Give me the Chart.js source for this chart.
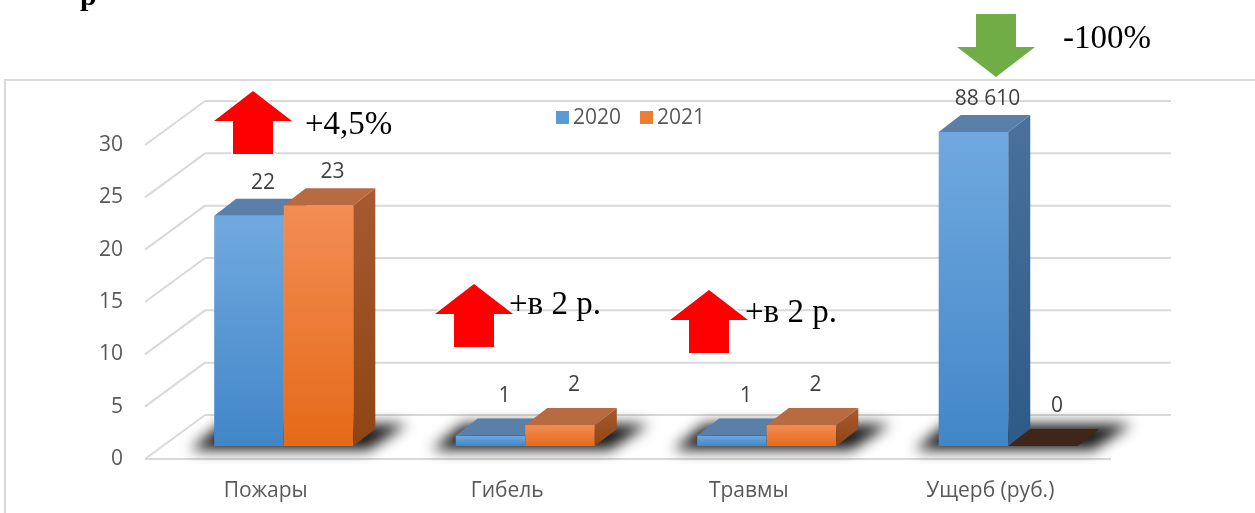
<!DOCTYPE html>
<html>
<head>
<meta charset="utf-8">
<script src="https://cdn.jsdelivr.net/npm/chart.js@4.4.1/dist/chart.umd.min.js"></script>
<style>
    html, body { margin: 0; padding: 0; background: #fff; }
    #wrap { position: relative; width: 1255px; height: 513px; }
</style>
</head>
<body>
<div id="wrap"><canvas id="chart" width="1255" height="513"></canvas></div>
<script>
// data
const categories = ['Пожары', 'Гибель', 'Травмы', 'Ущерб (руб.)'];
const years = ['2020', '2021'];
const values2020 = [22, 1, 1, 88610];
const values2021 = [23, 2, 2, 0];
const yTicks = [0, 5, 10, 15, 20, 25, 30];
const changeNotes = ['+4,5%', '+в 2 р.', '+в 2 р.', '-100%'];
const changeUp = [true, true, true, false];

const SANS = '"Open Sans", "Noto Sans", sans-serif';
const SERIF = '"Liberation Serif", "DejaVu Serif", serif';

const DX = 22, DY = -17;      // depth of a bar
const FRONT = [-18, 13];      // front edge of floor / side wall, from bar plane
const BACK = [42, -31];       // back wall, from bar plane

// arrow + note placement (layout only)
const notePlaces = [
    { ax: 253, tip: 91, tx: 305, ty: 134 },
    { ax: 474, tip: 284, tx: 509, ty: 314 },
    { ax: 709, tip: 290, tx: 745, ty: 322 },
    { ax: 996, tip: 77, tx: 1063, ty: 48 }
];

const seriesStyle = [
    { front: ['#70a9df', '#4286c8'], top: '#5a7fa9', side: ['#4b719b', '#2d5a88'], legend: '#5b9bd5' },
    { front: ['#f38d55', '#e46a17'], top: '#b86a40', side: ['#a75a31', '#8e4514'], legend: '#ed7d31' }
];

function fmt(v) {
    return String(v).replace(/\B(?=(\d{3})+(?!\d))/g, ' ');
}

function poly(ctx, pts) {
    ctx.beginPath();
    ctx.moveTo(pts[0][0], pts[0][1]);
    for (let i = 1; i < pts.length; i++) ctx.lineTo(pts[i][0], pts[i][1]);
    ctx.closePath();
}

function drawBox(ctx, x0, x1, top, base, st) {
    if (base - top < 0.5) {
        // zero value - flat dark lid
        ctx.fillStyle = '#3f251a';
        poly(ctx, [[x0, base], [x1, base], [x1 + DX, base + DY], [x0 + DX, base + DY]]);
        ctx.fill();
        return;
    }
    let g = ctx.createLinearGradient(0, top, 0, base);
    g.addColorStop(0, st.front[0]);
    g.addColorStop(1, st.front[1]);
    ctx.fillStyle = g;
    ctx.fillRect(x0, top, x1 - x0, base - top);

    g = ctx.createLinearGradient(0, top + DY, 0, base);
    g.addColorStop(0, st.side[0]);
    g.addColorStop(1, st.side[1]);
    ctx.fillStyle = g;
    poly(ctx, [[x1, top], [x1 + DX, top + DY], [x1 + DX, base + DY], [x1, base]]);
    ctx.fill();

    ctx.fillStyle = st.top;
    poly(ctx, [[x0, top], [x1, top], [x1 + DX, top + DY], [x0 + DX, top + DY]]);
    ctx.fill();
}

function drawArrow(ctx, cx, tip, up, color) {
    const headH = 30, total = 63, headW = 39, stemW = 20;
    const s = up ? 1 : -1;
    const hb = tip + s * headH;
    const end = tip + s * total;
    const pts = [[cx, tip], [cx + headW, hb], [cx + stemW, hb], [cx + stemW, end],
                 [cx - stemW, end], [cx - stemW, hb], [cx - headW, hb]];
    ctx.strokeStyle = '#ffffff';
    ctx.lineWidth = 3;
    ctx.lineJoin = 'miter';
    poly(ctx, pts);
    ctx.stroke();
    ctx.fillStyle = color;
    poly(ctx, pts);
    ctx.fill();
}

const excel3d = {
    id: 'excel3d',
    beforeDatasetsDraw(chart) {
        const ctx = chart.ctx;
        const area = chart.chartArea;
        const yScale = chart.scales.y;
        ctx.save();

        // title fragment cut off at the top
        ctx.fillStyle = '#000';
        ctx.font = 'bold 30px ' + SERIF;
        ctx.textBaseline = 'alphabetic';
        ctx.fillText('р', 80, 5);

        // chart frame
        ctx.strokeStyle = '#d9d9d9';
        ctx.lineWidth = 2;
        ctx.strokeRect(5, 80, 1400, 600);

        // back wall and side wall grid
        yTicks.forEach(v => {
            const y = yScale.getPixelForValue(v);
            ctx.beginPath();
            ctx.moveTo(area.left + BACK[0], y + BACK[1]);
            ctx.lineTo(area.right + BACK[0], y + BACK[1]);
            ctx.moveTo(area.left + FRONT[0], y + FRONT[1]);
            ctx.lineTo(area.left + BACK[0], y + BACK[1]);
            ctx.stroke();
        });
        const y0 = yScale.getPixelForValue(0);
        ctx.beginPath();
        ctx.moveTo(area.left + FRONT[0], y0 + FRONT[1]);
        ctx.lineTo(area.right + FRONT[0], y0 + FRONT[1]);
        ctx.stroke();

        // soft shadows on the floor
        const m0 = chart.getDatasetMeta(0).data;
        const m1 = chart.getDatasetMeta(1).data;
        ctx.filter = 'blur(7px)';
        ctx.fillStyle = 'rgba(0,0,0,0.9)';
        m0.forEach((b, j) => {
            const x0 = b.x - b.width / 2;
            const x1 = m1[j].x + m1[j].width / 2;
            const base = b.base;
            poly(ctx, [[x0 - 24, base + 4], [x1 + 15, base + 4], [x1 + DX + 32, base + DY - 5], [x0 + DX - 15, base + DY - 5]]);
            ctx.fill();
        });
        ctx.filter = 'none';
        ctx.restore();
    },
    afterDatasetsDraw(chart) {
        const ctx = chart.ctx;
        const area = chart.chartArea;
        ctx.save();
        const metas = [chart.getDatasetMeta(0).data, chart.getDatasetMeta(1).data];

        categories.forEach((c, j) => {
            metas.forEach((data, i) => {
                const b = data[j];
                const x0 = b.x - b.width / 2;
                const x1 = b.x + b.width / 2;
                const top = Math.max(Math.min(b.y, b.base), area.top);
                drawBox(ctx, x0, x1, top, b.base, seriesStyle[i]);
            });
        });

        // value labels
        ctx.font = '21px ' + SANS;
        ctx.fillStyle = '#404040';
        ctx.textAlign = 'center';
        ctx.textBaseline = 'middle';
        chart.data.datasets.forEach((ds, i) => {
            metas[i].forEach((b, j) => {
                const top = Math.max(Math.min(b.y, b.base), area.top);
                const lift = (b.base - top) > 100 ? 33 : 40;
                ctx.fillText(fmt(ds.data[j]), b.x + 14, top - lift);
            });
        });

        // legend
        let lx = 556;
        ctx.textAlign = 'left';
        chart.data.datasets.forEach((ds, i) => {
            ctx.fillStyle = seriesStyle[i].legend;
            ctx.fillRect(lx, 111, 13, 13);
            ctx.fillStyle = '#595959';
            ctx.fillText(ds.label, lx + 17, 118);
            lx += 84;
        });

        // change arrows with notes
        notePlaces.forEach((p, j) => {
            drawArrow(ctx, p.ax, p.tip, changeUp[j], changeUp[j] ? '#ff0000' : '#70ad47');
            ctx.fillStyle = '#000';
            ctx.font = '33px ' + SERIF;
            ctx.textAlign = 'left';
            ctx.textBaseline = 'alphabetic';
            ctx.fillText(changeNotes[j], p.tx, p.ty);
        });
        ctx.restore();
    }
};

const chart = new Chart(document.getElementById('chart'), {
    type: 'bar',
    data: {
        labels: categories,
        datasets: [
            { label: years[0], data: values2020, backgroundColor: 'rgba(0,0,0,0)' },
            { label: years[1], data: values2021, backgroundColor: 'rgba(0,0,0,0)' }
        ]
    },
    options: {
        responsive: false,
        animation: false,
        events: [],
        categoryPercentage: 0.576,
        barPercentage: 1,
        layout: { padding: { top: 132, right: 126, left: 0, bottom: 0 } },
        scales: {
            x: {
                grid: { display: false, drawTicks: false },
                border: { display: false },
                ticks: {
                    labelOffset: -18,
                    padding: 32,
                    color: '#595959',
                    font: { family: SANS, size: 21 }
                },
                afterFit: s => { s.height = 67; }
            },
            y: {
                min: 0,
                max: 30,
                grid: { display: false, drawTicks: false },
                border: { display: false },
                afterBuildTicks: s => { s.ticks = yTicks.map(v => ({ value: v })); },
                ticks: {
                    labelOffset: 13,
                    padding: 40,
                    color: '#595959',
                    font: { family: SANS, size: 21 }
                },
                afterFit: s => { s.width = 163; }
            }
        },
        plugins: {
            legend: { display: false },
            tooltip: { enabled: false }
        }
    },
    plugins: [excel3d]
});
</script>
</body>
</html>
